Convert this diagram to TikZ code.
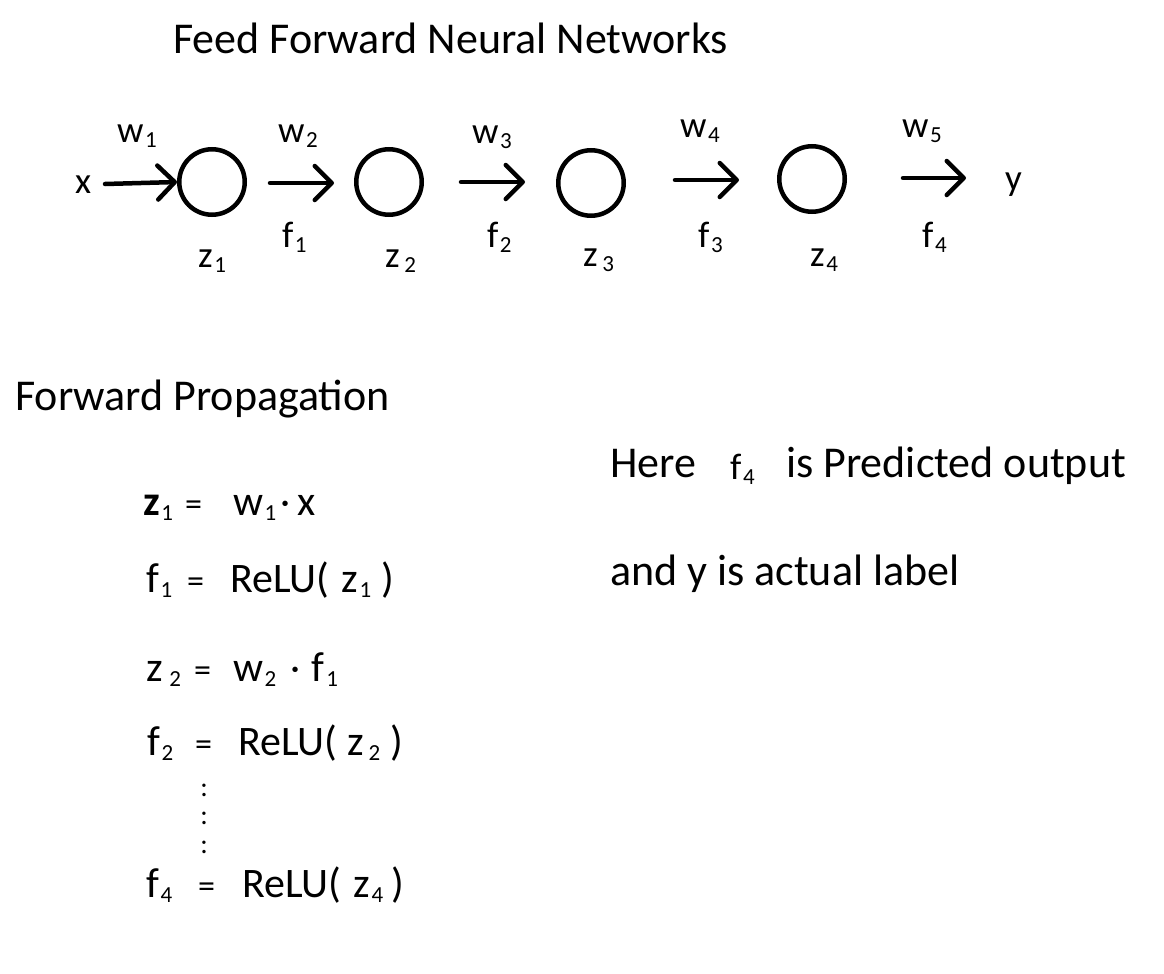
\documentclass[tikz,border=0pt]{standalone}
\usepackage{fontspec}
\setmainfont{Carlito}
\usetikzlibrary{arrows.meta}
\newcommand{\sbs}[1]{\kern1.5pt\raisebox{-5pt}{\fontsize{23}{25}\selectfont #1}}
\newcommand{\mdot}{\raisebox{1pt}{\fontsize{38}{40}\selectfont ·}}

\begin{document}
\begin{tikzpicture}[x=1pt, y=-1pt,
  lbl/.style={inner sep=0pt, anchor=base west, font=\fontsize{37}{40}\selectfont},
  eqn/.style={inner sep=0pt, anchor=base west, font=\fontsize{42}{46}\selectfont},
  eqsign/.style={inner sep=0pt, anchor=base west, font=\fontsize{34}{36}\selectfont},
  head/.style={inner sep=0pt, anchor=base west, font=\fontsize{44}{48}\selectfont},
  neuron/.style={circle, draw, line width=4.5pt, minimum size=65.5pt, inner sep=0pt},
  arr/.style={line width=4.5pt, line cap=round, -{Straight Barb[length=17pt, width=34pt, line width=4.5pt, round]}}]
\useasboundingbox (0,0) rectangle (1164,974);
% network
\node[head] (title) at (173,54) {Feed Forward Neural Networks};
\node[lbl] (x) at (75,193) {x};
\node[neuron] (c1) at (212,182) {};
\node[neuron] (c2) at (389,182) {};
\node[neuron] (c3) at (591,183) {};
\node[neuron] (c4) at (812,179) {};
\node[lbl] (y) at (1005,190) {y};
\coordinate (a1s) at (105,184);
\coordinate (a2s) at (270,183); \coordinate (a2e) at (334,183);
\coordinate (a3s) at (461,182); \coordinate (a3e) at (525,182);
\coordinate (a4s) at (675,180); \coordinate (a4e) at (739,180);
\coordinate (a5s) at (903,178); \coordinate (a5e) at (966,178);
\draw[arr] (a1s) -- (c1.west);
\draw[arr] (a2s) -- (a2e);
\draw[arr] (a3s) -- (a3e);
\draw[arr] (a4s) -- (a4e);
\draw[arr] (a5s) -- (a5e);
\node[lbl] (w1) at (117,142) {w\sbs{1}};
\node[lbl] (w2) at (278,142) {w\sbs{2}};
\node[lbl] (w3) at (472,143) {w\sbs{3}};
\node[lbl] (w4) at (680,137) {w\sbs{4}};
\node[lbl] (w5) at (902,137) {w\sbs{5}};
\node[lbl] (f1) at (282,247) {f\sbs{1}};
\node[lbl] (f2) at (487,247) {f\sbs{2}};
\node[lbl] (f3) at (698,247) {f\sbs{3}};
\node[lbl] (f4) at (922,247) {f\sbs{4}};
\node[lbl] (z1) at (198,267) {z\sbs{1}};
\node[lbl] (z2) at (385,267) {z\kern3pt\sbs{2}};
\node[lbl] (z3) at (583,266) {z\kern3pt\sbs{3}};
\node[lbl] (z4) at (810,266) {z\sbs{4}};
% forward propagation
\node[head] (fwd) at (15,410) {Forward Propagation};
\node[head] (here) at (610,477) {Here};
\node[lbl] (hf4) at (730,479) {f\sbs{4}};
\node[head] (pred) at (786,477) {is Predicted output};
\node[head] (act) at (610,585) {and y is actual label};
% equations
\node[eqn] (e1l) at (143,515) {\textbf{z}\sbs{1}};
\node[eqsign] (e1q) at (185,515) {=};
\node[eqn] (e1r) at (233,515) {w\sbs{1}\kern4pt\mdot\kern8pt x};
\node[eqn] (e2l) at (146,592) {f\sbs{1}};
\node[eqsign] (e2q) at (187,592) {=};
\node[eqn] (e2r) at (230,592) {ReLU(\kern12pt z\sbs{1}\kern10pt)};
\node[eqn] (e3l) at (146,681) {z\kern5pt\sbs{2}};
\node[eqsign] (e3q) at (194,681) {=};
\node[eqn] (e3r) at (233,681) {w\sbs{2}\kern14pt\mdot\kern12pt f\sbs{1}};
\node[eqn] (e4l) at (147,755) {f\sbs{2}};
\node[eqsign] (e4q) at (195,755) {=};
\node[eqn] (e4r) at (238,755) {ReLU(\kern10pt z\kern3pt\sbs{2}\kern10pt)};
\foreach \yy/\nm in {796/d1, 824/d2, 853/d3}
  \node[inner sep=0pt, anchor=base, font=\fontsize{28}{30}\selectfont] (\nm) at (204,\yy) {:};
\node[eqn] (e5l) at (146,897) {f\sbs{4}};
\node[eqsign] (e5q) at (198,897) {=};
\node[eqn] (e5r) at (242,897) {ReLU(\kern12pt z\sbs{4}\kern8pt)};
\end{tikzpicture}
\end{document}
